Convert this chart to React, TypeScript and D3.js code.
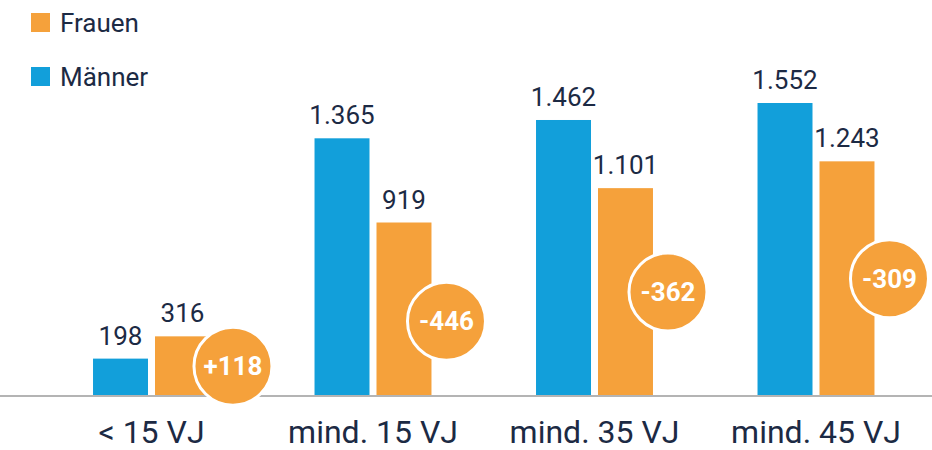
import React from 'react';
import * as d3 from 'd3';

const categories = ['< 15 VJ', 'mind. 15 VJ', 'mind. 35 VJ', 'mind. 45 VJ'];
const maenner = [198, 1365, 1462, 1552];
const frauen = [316, 919, 1101, 1243];
const diffLabels = ['+118', '-446', '-362', '-309'];
const series = ['Männer', 'Frauen'];

const BLUE = '#129fda';
const ORANGE = '#f5a13b';
const TEXT = '#1c2a44';
const FONT = 'Roboto, "Noto Sans", sans-serif';

const fmt = (v: number) => d3.format(',')(v).replace(/,/g, '.');

export default function App() {
  const width = 932;
  const height = 450;
  const baseline = 396;

  const x0 = d3.scaleBand<string>()
    .domain(categories)
    .range([40.75, 926.75])
    .paddingInner(0.472)
    .paddingOuter(0.236);
  const x1 = d3.scaleBand<string>()
    .domain(series)
    .range([0, x0.bandwidth()])
    .paddingInner(0.113);
  const y = d3.scaleLinear().domain([0, 1552]).range([baseline, 103]);

  const r = 39;
  // badge position: right of the Frauen bar, around its middle
  const badge = (i: number) => {
    const fx = x0(categories[i])! + x1('Frauen')!;
    const cx = fx + x1.bandwidth() + 15 + (i === 0 ? 8 : 0);
    const cy = Math.min(y(frauen[i] / 2) + (i === 1 ? 12 : 0), baseline - 9);
    return [cx, cy];
  };

  return (
    <svg width={width} height={height} style={{ position: 'absolute', left: 0, top: 0, fontFamily: FONT }}>
      <rect width={width} height={height} fill="#fff" />
      {/* legend */}
      <rect x={31} y={13} width={19} height={19} fill={ORANGE} />
      <text x={60} y={32} fontSize={26} fill={TEXT}>Frauen</text>
      <rect x={31} y={67} width={19} height={19} fill={BLUE} />
      <text x={60} y={86} fontSize={26} fill={TEXT}>Männer</text>

      {categories.map((c, i) => {
        const gx = x0(c)!;
        const bx = gx + x1('Männer')!;
        const fx = gx + x1('Frauen')!;
        const bw = x1.bandwidth();
        const m = maenner[i];
        const f = frauen[i];
        return (
          <g key={c}>
            <rect x={bx} y={y(m)} width={bw} height={baseline - y(m)} fill={BLUE} />
            <rect x={fx} y={y(f)} width={bw} height={baseline - y(f)} fill={ORANGE} />
            <text x={bx + bw / 2} y={y(m) - 14} textAnchor="middle" fontSize={26} fill={TEXT}>{fmt(m)}</text>
            <text x={fx + bw / 2} y={y(f) - 14} textAnchor="middle" fontSize={26} fill={TEXT}>{fmt(f)}</text>
          </g>
        );
      })}

      <line x1={0} x2={width} y1={baseline} y2={baseline} stroke="#b4b4b4" strokeWidth={2} />

      {categories.map((c, i) => {
        const [cx, cy] = badge(i);
        return (
          <g key={c + '-d'}>
            <circle cx={cx} cy={cy} r={r} fill={ORANGE} stroke="#fff" strokeWidth={3} />
            <text x={cx} y={cy + 9} textAnchor="middle" fontSize={26} fontWeight="bold" fill="#fff">{diffLabels[i]}</text>
          </g>
        );
      })}

      {categories.map((c) => (
        <text key={c + '-l'} x={x0(c)! + x0.bandwidth() / 2} y={443} textAnchor="middle" fontSize={32} fill={TEXT}>{c}</text>
      ))}
    </svg>
  );
}
